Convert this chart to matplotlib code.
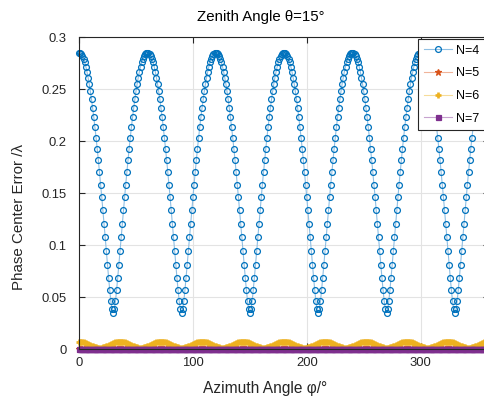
import numpy as np
import matplotlib.pyplot as plt

plt.rcParams['font.family'] = ['Liberation Sans', 'DejaVu Sans']

# azimuth sampled every 1 degree
phi = np.arange(0, 361, 1)

# N=4: one half period (0..30 deg), curve is symmetric / periodic (60 deg)
n4_half = [0.285, 0.2848, 0.2836, 0.2817, 0.279, 0.2756, 0.2715, 0.2665, 0.2609, 0.2546,
           0.2476, 0.24, 0.2316, 0.2227, 0.2132, 0.2031, 0.1926, 0.1815, 0.1699, 0.158,
           0.1458, 0.1332, 0.1203, 0.1073, 0.0941, 0.0811, 0.0684, 0.0565, 0.0458, 0.038, 0.035]
# N=6: half period (0..18 deg), period 36 deg
n6_half = [0.0068, 0.0068, 0.0067, 0.0065, 0.0063, 0.006, 0.0056, 0.0052, 0.0047, 0.0042,
           0.0037, 0.0032, 0.0027, 0.0022, 0.0018, 0.0015, 0.0013, 0.0012, 0.0012]
# N=5 and N=7 stay at the floor (hidden under the N=7 band)
n5_half = [0.0004, 0.0004, 0.0003, 0.0003, 0.0002]
n7_half = [0.0002, 0.0002, 0.0001, 0.0001]


def unfold(half):
    per = list(half) + list(half[-2:0:-1])
    reps = len(phi) // len(per) + 2
    return np.array(per * reps)[:len(phi)]


series = {
    'N=4': (unfold(n4_half), '#0072BD', '#8fbfe3', 'o', 4.2, 'none', 0.9),
    'N=5': (unfold(n5_half), '#D95319', '#f0b49a', '*', 4.5, '#D95319', 0.9),
    'N=6': (unfold(n6_half), '#EDB120', '#f6dc9a', '+', 3.8, '#EDB120', 1.9),
    'N=7': (unfold(n7_half), '#7E2F8E', '#c7a3cf', 's', 3.6, '#7E2F8E', 0.9),
}

fig = plt.figure(figsize=(4.85, 4.01), dpi=100)
ax = fig.add_axes([79 / 485, 1 - 349 / 401, 410 / 485, 312 / 401])

for name, (y, mc, lc, mk, ms, fc, mw) in series.items():
    ax.plot(phi, y, '-', color=lc, lw=0.8, marker=mk, ms=ms, mec=mc, mfc=fc,
            mew=mw, label=name, clip_on=False)

ax.set_xlim(0, 360)
ax.set_ylim(0, 0.3)
ax.set_xticks([0, 100, 200, 300])
ax.set_yticks([0, 0.05, 0.1, 0.15, 0.2, 0.25, 0.3])
ax.set_yticklabels(['0', '0.05', '0.1', '0.15', '0.2', '0.25', '0.3'])
ax.grid(True, color='#e3e3e3', lw=0.8)
ax.set_axisbelow(True)
ax.tick_params(direction='in', length=4, labelsize=9.4, colors='#262626',
               top=True, right=True)
ax.tick_params(axis='y', pad=9)
ax.tick_params(axis='x', pad=6)
for s in ax.spines.values():
    s.set_color('#262626')
    s.set_linewidth(0.8)

ax.text((261 - 79) / 410, (349 - 17) / 312, 'Zenith Angle θ=15°', transform=ax.transAxes,
        ha='center', va='center', fontsize=10.8, color='#000000')
ax.set_xlabel('Azimuth Angle φ/°', fontsize=11.2, color='#262626')
ax.xaxis.set_label_coords((265 - 79) / 410, (349 - 389) / 312)
ax.xaxis.label.set_va('center')
ax.set_ylabel('Phase Center Error /λ', fontsize=10.9, color='#262626')
ax.yaxis.set_label_coords((19 - 79) / 410, (349 - 217) / 312)
ax.yaxis.label.set_va('center')

leg = ax.legend(loc='upper left', bbox_to_anchor=(418 / 485, 1 - 39 / 401),
                bbox_transform=fig.transFigure, borderaxespad=0, fontsize=9,
                frameon=True, fancybox=False, edgecolor='#262626', framealpha=1,
                handlelength=2.3, handletextpad=0.3, labelspacing=0.85, borderpad=0.45)
leg.get_frame().set_linewidth(0.8)

fig.savefig('out.png', dpi=100)
